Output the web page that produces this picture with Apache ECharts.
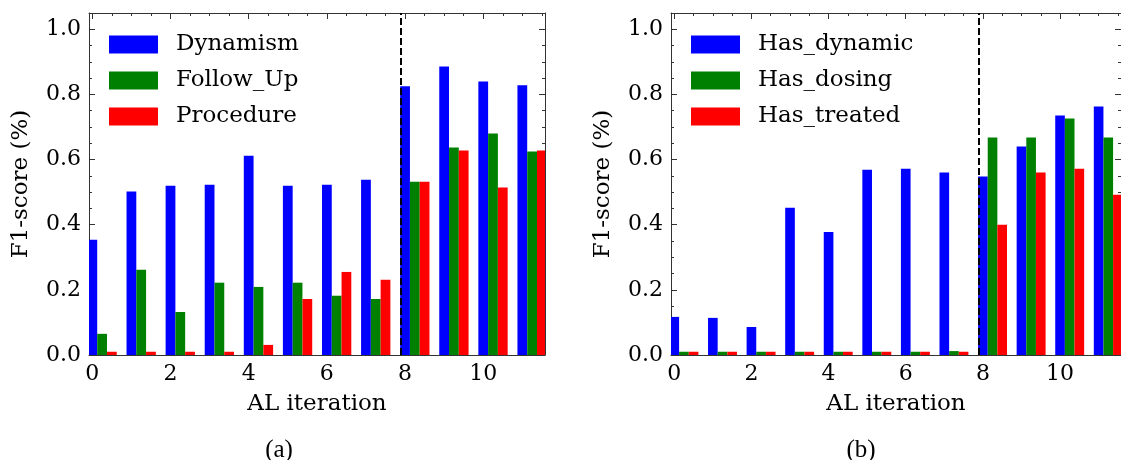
<!DOCTYPE html>
<html>
<head>
<meta charset="utf-8">
<script src="https://cdn.jsdelivr.net/npm/echarts@6/dist/echarts.min.js"></script>
<style>
html,body{margin:0;padding:0;background:#fff;}
#chart{width:1121px;height:460px;}
</style>
</head>
<body>
<div id="chart"></div>
<script>
// ---- data ----
const iterations = [0,1,2,3,4,5,6,7,8,9,10,11];

const namesA = ['Dynamism','Follow_Up','Procedure'];
const dynamism  = [0.354,0.502,0.520,0.523,0.612,0.520,0.523,0.538,0.825,0.886,0.840,0.828];
const followUp  = [0.065,0.262,0.132,0.222,0.209,0.222,0.182,0.172,0.532,0.637,0.680,0.625];
const procedure = [0.010,0.010,0.010,0.010,0.031,0.172,0.255,0.231,0.532,0.628,0.514,0.628];

const namesB = ['Has_dynamic','Has_dosing','Has_treated'];
const hasDynamic = [0.117,0.114,0.086,0.452,0.378,0.569,0.572,0.560,0.548,0.640,0.735,0.763];
const hasDosing  = [0.010,0.010,0.010,0.010,0.010,0.010,0.010,0.012,0.668,0.668,0.726,0.668];
const hasTreated = [0.010,0.010,0.010,0.010,0.010,0.010,0.010,0.010,0.400,0.560,0.572,0.492];

const xTickLabels = [0,2,4,6,8,10];
const xMinorTicks = [0,0.5,1,1.5,2,2.5,3,3.5,4,4.5,5,5.5,6,6.5,7,7.5,8,8.5,9,9.5,10,10.5,11,11.5];
const yTickLabels = [0,0.2,0.4,0.6,0.8,1.0];
const yMinorTicks = [0.05,0.1,0.15,0.25,0.3,0.35,0.45,0.5,0.55,0.65,0.7,0.75,0.85,0.9,0.95,1.0];
const splitAt = 7.875;

// ---- layout / style ----
const colors = ['#0000ff','#008000','#ff0000'];
const offsets = [0, 0.25, 0.5];
const barW = 0.25;
const X_MIN = -0.085, X_MAX = 11.58, Y_MIN = 0, Y_MAX = 1.05;
const FONT = 'DejaVu Serif';
const SPINE = '#333';

const grids = [
  {left: 89, top: 13, width: 456, height: 342},
  {left: 671, top: 13, width: 456, height: 342}
];

function renderBar(params, api) {
  const x = api.value(0), y = api.value(1);
  const p0 = api.coord([x - barW/2, y]);
  const p1 = api.coord([x + barW/2, 0]);
  return {
    type: 'rect',
    shape: {x: p0[0], y: p0[1], width: p1[0]-p0[0], height: p1[1]-p0[1]},
    style: {fill: api.visual('color')}
  };
}

const xAxes = [], yAxes = [], series = [], legends = [];
function addXAxis(gi, pos, ticks, len, showLabel, showLine, name) {
  xAxes.push({
    type: 'value', gridIndex: gi, position: pos, min: X_MIN, max: X_MAX,
    name: name || '', nameLocation: 'middle', nameGap: 38,
    nameTextStyle: {fontFamily: FONT, fontSize: 23, color: '#000'},
    axisLine: {show: showLine, onZero: false, lineStyle: {color: SPINE, width: 1}},
    axisTick: {show: true, inside: true, length: len, customValues: ticks, lineStyle: {color: SPINE, width: 1}},
    axisLabel: {show: showLabel, customValues: ticks, margin: 8, fontFamily: FONT, fontSize: 22, color: '#000'},
    splitLine: {show: false}
  });
  return xAxes.length - 1;
}
function addYAxis(gi, pos, ticks, len, showLabel, showLine, name) {
  yAxes.push({
    type: 'value', gridIndex: gi, position: pos, min: Y_MIN, max: Y_MAX,
    name: name || '', nameLocation: 'middle', nameGap: 56,
    nameTextStyle: {fontFamily: FONT, fontSize: 23, color: '#000'},
    axisLine: {show: showLine, onZero: false, lineStyle: {color: SPINE, width: 1}},
    axisTick: {show: true, inside: true, length: len, customValues: ticks, lineStyle: {color: SPINE, width: 1}},
    axisLabel: {show: showLabel, customValues: ticks, margin: 8, fontFamily: FONT, fontSize: 22, color: '#000',
      formatter: v => v.toFixed(1)},
    splitLine: {show: false}
  });
  return yAxes.length - 1;
}

const panels = [
  {names: namesA, values: [dynamism, followUp, procedure]},
  {names: namesB, values: [hasDynamic, hasDosing, hasTreated]}
];

panels.forEach((p, gi) => {
  const xi = addXAxis(gi, 'bottom', xTickLabels, 6, true, true, 'AL iteration');
  addXAxis(gi, 'bottom', xMinorTicks, 3, false, false);
  addXAxis(gi, 'top', xTickLabels, 6, false, true);
  addXAxis(gi, 'top', xMinorTicks, 3, false, false);
  const yi = addYAxis(gi, 'left', yTickLabels, 6, true, true, 'F1-score (%)');
  addYAxis(gi, 'left', yMinorTicks, 3, false, false);
  addYAxis(gi, 'right', yTickLabels, 6, false, true);
  addYAxis(gi, 'right', yMinorTicks, 3, false, false);

  p.names.forEach((nm, si) => {
    const s = {
      type: 'custom', name: nm, xAxisIndex: xi, yAxisIndex: yi, clip: true,
      itemStyle: {color: colors[si]},
      renderItem: renderBar,
      encode: {x: 0, y: 1},
      data: iterations.map((it, i) => [it + offsets[si], p.values[si][i]]),
      z: 2
    };
    if (si === 0) {
      s.markLine = {
        silent: true, symbol: 'none', animation: false,
        label: {show: false},
        lineStyle: {color: '#000', type: [7, 3], width: 2},
        data: [{xAxis: splitAt}]
      };
    }
    series.push(s);
  });

  legends.push({
    orient: 'vertical', left: grids[gi].left + 20, top: 33, padding: 0,
    itemWidth: 49, itemHeight: 18, itemGap: 13, icon: 'rect',
    data: p.names,
    textStyle: {fontFamily: FONT, fontSize: 23, color: '#000', padding: [0,0,0,13]},
    selectedMode: false
  });
});

const option = {
  backgroundColor: '#fff',
  animation: false,
  grid: grids,
  xAxis: xAxes,
  yAxis: yAxes,
  legend: legends,
  series: series,
  graphic: [
    {type: 'text', x: 279, y: 450, style: {text: '(a)', font: '25px "Liberation Serif"', fill: '#000', align: 'center', verticalAlign: 'middle'}},
    {type: 'text', x: 861, y: 450, style: {text: '(b)', font: '25px "Liberation Serif"', fill: '#000', align: 'center', verticalAlign: 'middle'}}
  ]
};

const chart = echarts.init(document.getElementById('chart'), null, {renderer: 'canvas'});
chart.setOption(option);
</script>
</body>
</html>
